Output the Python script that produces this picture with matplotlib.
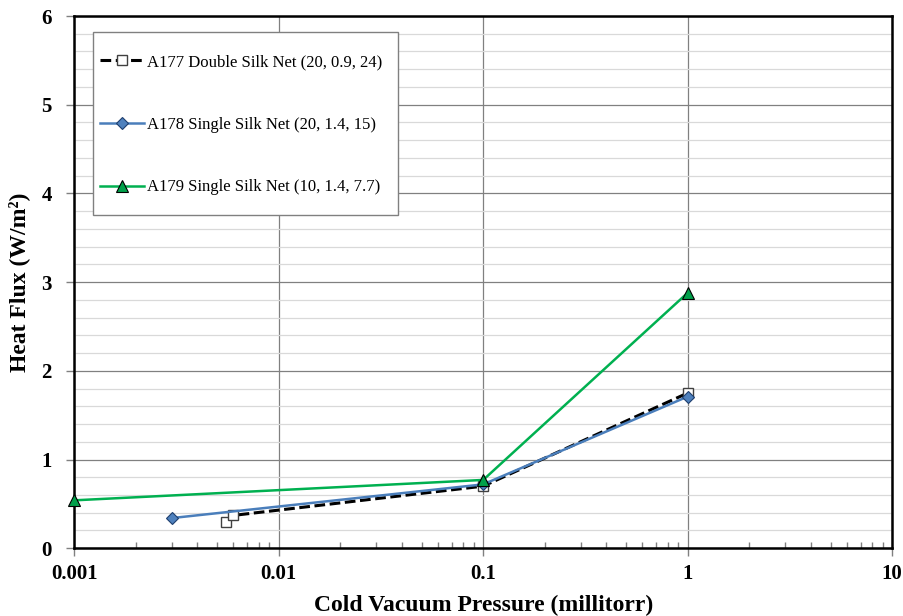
import matplotlib
matplotlib.use("Agg")
import matplotlib.pyplot as plt
from matplotlib.patches import Rectangle
from matplotlib.ticker import LogLocator, FixedLocator, NullFormatter, MultipleLocator

plt.rcParams['font.family'] = ['Liberation Serif', 'DejaVu Serif']

# A177 Double Silk Net
p177 = [0.0055, 0.006, 0.1, 1.0]
q177 = [0.30, 0.37, 0.70, 1.75]
# A178 Single Silk Net
p178 = [0.003, 0.1, 1.0]
q178 = [0.34, 0.72, 1.71]
# A179 Single Silk Net
p179 = [0.001, 0.1, 1.0]
q179 = [0.54, 0.77, 2.88]

names = ["A177 Double Silk Net (20, 0.9, 24)",
         "A178 Single Silk Net (20, 1.4, 15)",
         "A179 Single Silk Net (10, 1.4, 7.7)"]
xticks = [0.001, 0.01, 0.1, 1, 10]
xticklabels = ["0.001", "0.01", "0.1", "1", "10"]

fig = plt.figure(figsize=(9.04, 6.16), dpi=100)
ax = fig.add_axes([0.082, 0.110, 0.905, 0.864])

ax.plot(p177, q177, color='black', ls=(0, (3.5, 1.5)), lw=2.2, marker='s', ms=7.5,
        mfc='white', mec='#404040', mew=1.0, label=names[0], zorder=3)
ax.plot(p178, q178, color='#4a7ebb', lw=1.8, marker='D', ms=6,
        mfc='#4f81bd', mec='#1f3f6f', mew=0.8, label=names[1], zorder=4)
ax.plot(p179, q179, color='#00b050', lw=1.8, marker='^', ms=8.5,
        mfc='#00a04a', mec='black', mew=0.8, label=names[2], zorder=5, clip_on=False)

ax.set_xscale('log')
ax.set_xlim(0.001, 10)
ax.set_ylim(0, 6)
ax.xaxis.set_major_locator(FixedLocator(xticks))
ax.set_xticklabels(xticklabels)
ax.xaxis.set_minor_locator(LogLocator(base=10, subs=range(2, 10)))
ax.xaxis.set_minor_formatter(NullFormatter())
ax.yaxis.set_major_locator(MultipleLocator(1))
ax.yaxis.set_minor_locator(MultipleLocator(0.2))

ax.grid(which='major', axis='both', color='#808080', lw=0.9)
ax.grid(which='minor', axis='y', color='#d9d9d9', lw=0.9)
ax.set_axisbelow(True)

ax.tick_params(axis='x', which='major', direction='out', length=6, width=1, color='#808080')
ax.tick_params(axis='x', which='minor', direction='in', length=4, width=1, color='#808080')
ax.tick_params(axis='y', which='major', direction='out', length=6, width=1, color='#808080')
ax.tick_params(axis='y', which='minor', length=0)
ax.tick_params(axis='x', labelsize=15, pad=5)
ax.tick_params(axis='y', labelsize=15, pad=10)
for lab in ax.get_xticklabels() + ax.get_yticklabels():
    lab.set_fontweight('bold')

for s in ax.spines.values():
    s.set_linewidth(1.8)
    s.set_color('black')

ax.set_xlabel("Cold Vacuum Pressure (millitorr)", fontsize=17, fontweight='bold', labelpad=8)
ax.set_ylabel("Heat Flux (W/m²)", fontsize=17, fontweight='bold', labelpad=8)

# legend box drawn separately so the padding can be taller than wide
ax.add_patch(Rectangle((0.023, 0.626), 0.373, 0.344, transform=ax.transAxes,
                       fc='white', ec='#808080', lw=1.0, zorder=2.5))
leg = ax.legend(loc='upper left', bbox_to_anchor=(0.022, 0.944), fontsize=12,
                frameon=False, labelspacing=2.8, borderpad=0.5,
                handlelength=2.6, handletextpad=0.2, borderaxespad=0)

fig.savefig("out.png", dpi=100)
